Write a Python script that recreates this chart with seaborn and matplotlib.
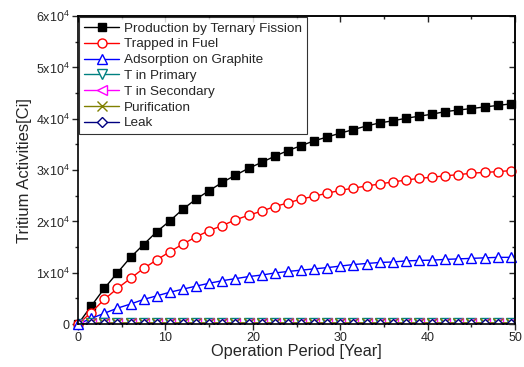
import matplotlib
matplotlib.use("Agg")
import matplotlib.pyplot as plt
import seaborn as sns
from matplotlib.ticker import MultipleLocator, FuncFormatter

years = [0, 1.5, 3, 4.5, 6, 7.5, 9, 10.5, 12, 13.5, 15, 16.5, 18, 19.5, 21, 22.5, 24,
         25.5, 27, 28.5, 30, 31.5, 33, 34.5, 36, 37.5, 39, 40.5, 42, 43.5, 45, 46.5, 48, 49.5]

production = [0, 3500, 6950, 10000, 13000, 15500, 18000, 20100, 22400, 24350, 26000, 27600,
              29000, 30350, 31500, 32700, 33800, 34750, 35700, 36450, 37200, 37900, 38600,
              39200, 39600, 40100, 40500, 40900, 41400, 41700, 42000, 42300, 42600, 42900]
trapped = [0, 2250, 4800, 6950, 8900, 10850, 12500, 14100, 15600, 17000, 18200, 19200,
           20300, 21200, 22000, 22900, 23600, 24350, 24900, 25500, 26050, 26500, 26900,
           27300, 27700, 28050, 28400, 28600, 28900, 29100, 29400, 29550, 29700, 29900]
adsorption = [0, 1100, 2100, 3100, 3900, 4800, 5500, 6200, 6800, 7400, 7950, 8450, 8850,
              9250, 9550, 9950, 10250, 10500, 10750, 11000, 11300, 11600, 11800, 12000,
              12100, 12300, 12400, 12450, 12600, 12700, 12800, 12900, 13000, 13000]
t_primary = [0, 150, 160, 160, 170, 170, 170, 170, 180, 180, 180, 180, 180, 180, 180, 180, 180,
             180, 180, 180, 180, 180, 180, 180, 180, 180, 180, 180, 180, 180, 180, 180, 180, 180]
t_secondary = [0, 120, 130, 130, 130, 140, 140, 140, 140, 140, 140, 140, 140, 140, 140, 140, 140,
               140, 140, 140, 140, 140, 140, 140, 140, 140, 140, 140, 140, 140, 140, 140, 140, 140]
purification = [0, 200, 220, 230, 230, 240, 240, 240, 240, 240, 240, 240, 240, 240, 240, 240, 240,
                240, 240, 240, 240, 240, 240, 240, 240, 240, 240, 240, 240, 240, 240, 240, 240, 240]
leak = [0, 20, 25, 25, 30, 30, 30, 30, 30, 30, 30, 30, 30, 30, 30, 30, 30,
        30, 30, 30, 30, 30, 30, 30, 30, 30, 30, 30, 30, 30, 30, 30, 30, 30]

labels = ["Production by Ternary Fission", "Trapped in Fuel", "Adsorption on Graphite",
          "T in Primary", "T in Secondary", "Purification", "Leak"]
series = [production, trapped, adsorption, t_primary, t_secondary, purification, leak]
colors = ["#000000", "#ff0000", "#0000ff", "#008080", "#ff00ff", "#808000", "#000080"]
markers = ["s", "o", "^", "v", "<", "x", "D"]
msizes = [6, 6.5, 7, 7, 7, 7, 5.5]

sns.set_style("ticks")
plt.rcParams["font.family"] = ["Liberation Sans", "DejaVu Sans"]
plt.rcParams["mathtext.fontset"] = "custom"
plt.rcParams["mathtext.rm"] = "Liberation Sans"
plt.rcParams["mathtext.it"] = "Liberation Sans"

fig = plt.figure(figsize=(5.24, 3.67), dpi=100)
ax = fig.add_axes([0.149, 0.117, 0.834, 0.839])

for i, (lab, vals, c, m, ms) in enumerate(zip(labels, series, colors, markers, msizes)):
    face = c if m == "s" else "white"
    sns.lineplot(x=years, y=vals, ax=ax, color=c, marker=m, markersize=ms,
                 markerfacecolor=face, markeredgecolor=c, markeredgewidth=1.0,
                 linewidth=1.0, label=lab, clip_on=(i >= 3))

ax.set_xlim(0, 50)
ax.set_ylim(0, 60000)
ax.xaxis.set_major_locator(MultipleLocator(10))
ax.xaxis.set_minor_locator(MultipleLocator(5))
ax.yaxis.set_major_locator(MultipleLocator(10000))
ax.yaxis.set_minor_locator(MultipleLocator(5000))


def yfmt(v, pos):
    if v == 0:
        return "0"
    return f"{int(round(v / 1e4))}x10$^{{4}}$"


ax.yaxis.set_major_formatter(FuncFormatter(yfmt))
ax.tick_params(which="major", direction="out", length=4, width=1, labelsize=9, pad=2)
ax.tick_params(which="minor", direction="out", length=2.5, width=1)
for s in ax.spines.values():
    s.set_linewidth(1.2)
    s.set_color("black")

# mirrored ticks pointing inward on top and right
top = ax.secondary_xaxis("top")
top.xaxis.set_major_locator(MultipleLocator(10))
top.xaxis.set_minor_locator(MultipleLocator(5))
top.tick_params(which="both", direction="in", labeltop=False, width=1)
top.tick_params(which="major", length=4)
top.tick_params(which="minor", length=2.5)
top.spines["top"].set_linewidth(1.2)
right = ax.secondary_yaxis("right")
right.yaxis.set_major_locator(MultipleLocator(10000))
right.yaxis.set_minor_locator(MultipleLocator(5000))
right.tick_params(which="both", direction="in", labelright=False, width=1)
right.tick_params(which="major", length=4)
right.tick_params(which="minor", length=2.5)
right.spines["right"].set_linewidth(1.2)

ax.set_xlabel("Operation Period [Year]", fontsize=11.8, labelpad=0)
ax.set_ylabel("Tritium Activities[Ci]", fontsize=12, labelpad=3)

leg = ax.legend(loc="upper left", bbox_to_anchor=(0.0, 1.0), borderaxespad=0.1,
                fontsize=9.7, frameon=True, fancybox=False, handlelength=2.6,
                handletextpad=0.35, labelspacing=0.25, borderpad=0.35)
leg.get_frame().set_edgecolor("black")
leg.get_frame().set_linewidth(0.8)

fig.savefig("out.png", dpi=100)
